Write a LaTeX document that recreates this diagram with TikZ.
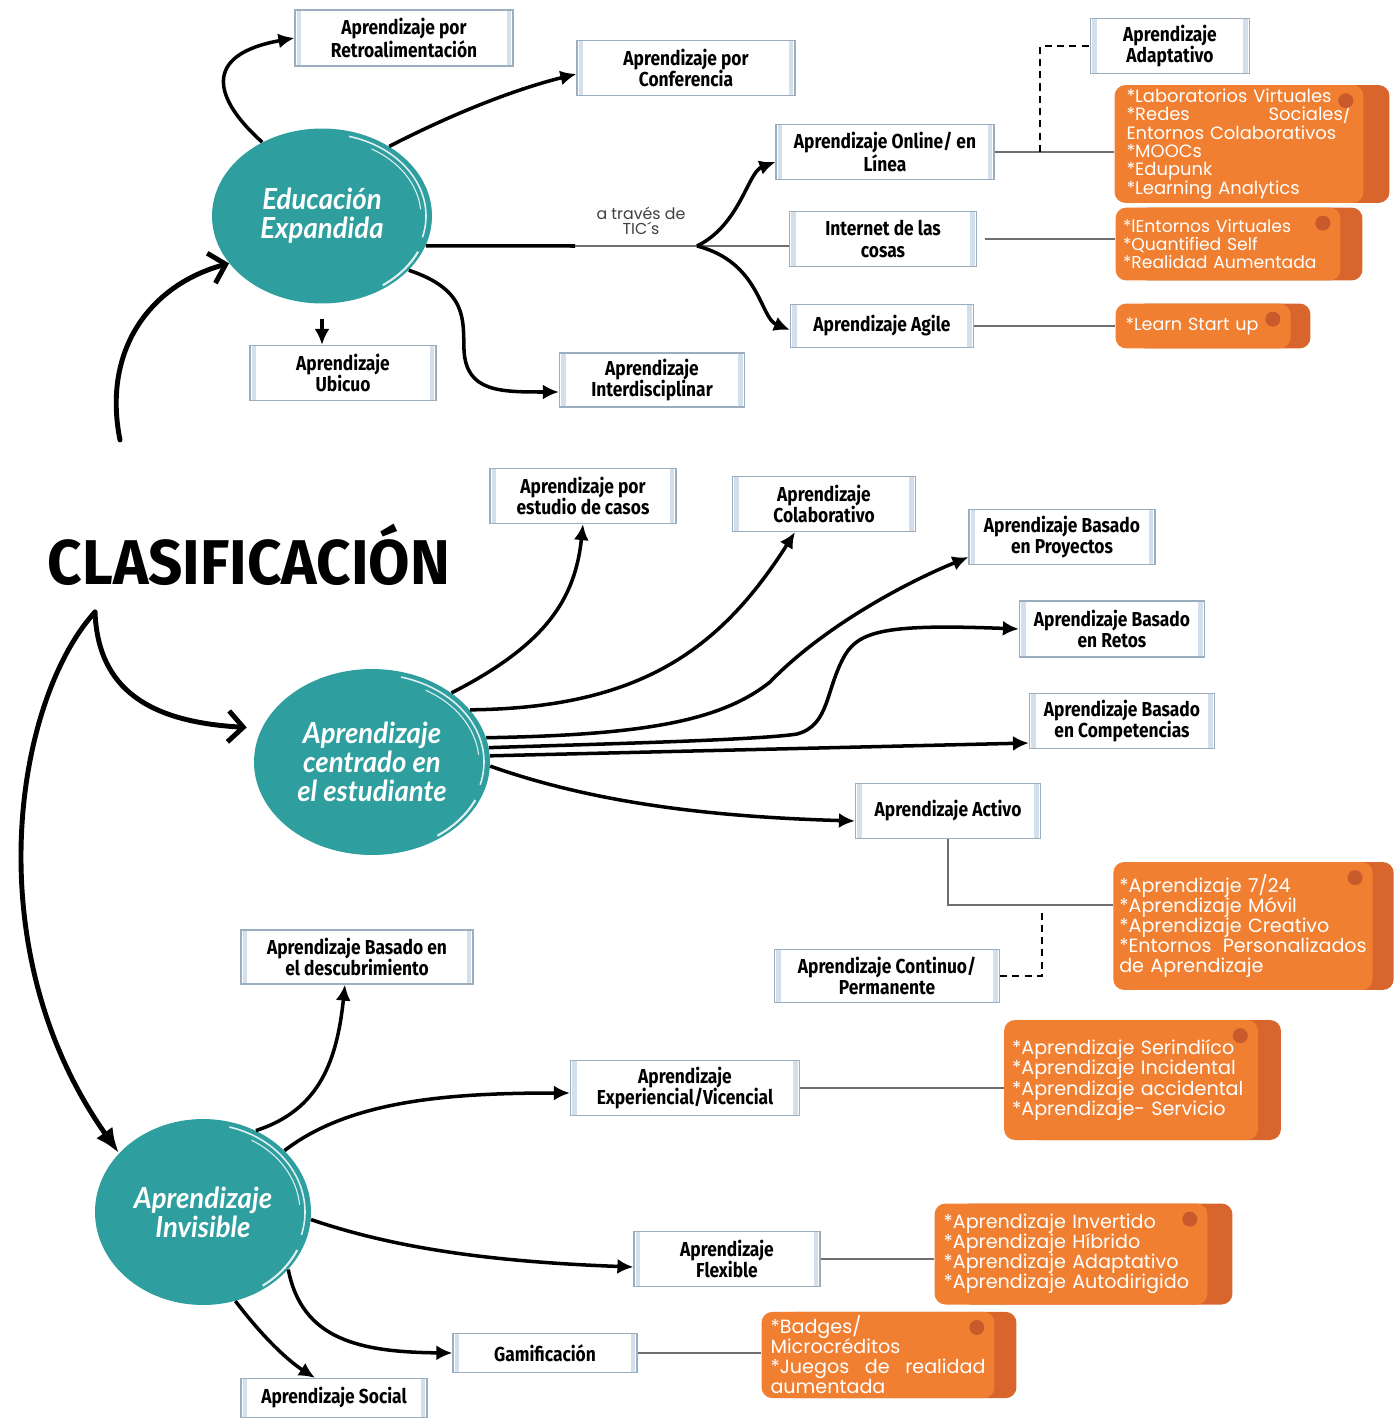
\documentclass[tikz,border=0pt]{standalone}
\usepackage{fontspec}
\usetikzlibrary{arrows.meta,shapes.geometric,shadows,calc}
\newfontfamily\boxfont{Fira Sans}[FakeStretch=0.86]
\newfontfamily\ofont{Poppins}
\newfontfamily\cfont{Lato}[FakeStretch=0.95]
\newfontfamily\tfont{Fira Sans}[FakeStretch=0.95]
\newcommand\tightlines{\lineskiplimit=-20pt\hyphenpenalty=10000\exhyphenpenalty=10000}

\definecolor{tealc}{HTML}{2F9E9F}
\definecolor{boxline}{HTML}{9AAEC0}
\definecolor{boxside}{HTML}{D3DFEA}
\definecolor{orA}{HTML}{F07F32}
\definecolor{orB}{HTML}{D8662C}
\definecolor{orDot}{HTML}{C85A2C}
\definecolor{conn}{HTML}{6E6E6E}

\tikzset{
  lbox/.style={draw=boxline, line width=0.7pt, fill=white, align=center, inner sep=1pt,
    font=\boxfont\bfseries\fontsize{11.5}{12}\selectfont,
    path picture={
      \fill[boxside] ([xshift=1pt]path picture bounding box.north west) rectangle ([xshift=3.5pt]path picture bounding box.south west);
      \fill[boxside] ([xshift=-1pt]path picture bounding box.north east) rectangle ([xshift=-3.5pt]path picture bounding box.south east);
    }},
  blob/.style={ellipse, fill=tealc, text=white, align=center, inner sep=0pt,
    font=\cfont\bfseries\itshape\fontsize{16.5}{16.5}\selectfont},
  obox/.style={fill=orA, rounded corners=0.22cm, text=white, align=left,
    inner xsep=0.18cm, inner ysep=0.08cm,
    font=\ofont\fontsize{10.9}{11.4}\selectfont\tightlines,
    copy shadow={shadow xshift=#1, shadow yshift=0cm, fill=orB, draw=none}},
  obox/.default=0.5cm,
  odot/.style={fill=orDot},
  flow/.style={line width=2pt, -{Latex[length=0.32cm,width=0.3cm]}},
  big/.style={line width=2.8pt, line cap=round},
  gline/.style={conn, line width=1.2pt},
  dline/.style={black, line width=0.9pt, dash pattern=on 4pt off 3pt},
  brush/.style={white, line width=0.9pt, opacity=0.85},
}

\begin{document}
\begin{tikzpicture}[x=0.02cm, y=-0.02cm]
\fill[white] (0,0) rectangle (1398,1419);
\useasboundingbox (0,0) rectangle (1398,1419);

% ---------- central circles ----------
\node[blob, minimum width=4.4cm, minimum height=3.5cm] (c1) at (322,216) {Educación\\Expandida};
\node[blob, minimum width=4.72cm, minimum height=3.72cm] (c2) at (372,762) {Aprendizaje\\centrado en\\el estudiante};
\node[blob, minimum width=4.32cm, minimum height=3.72cm] (c3) at (203,1212) {Aprendizaje\\Invisible};

% brush strokes on the circle rims
\foreach \c/\a/\b in {c1/2.2cm/1.75cm, c2/2.36cm/1.86cm, c3/2.16cm/1.86cm}{
  \draw[brush] ([shift={(\c.center)}]75:\a-0.12cm and \b-0.1cm) arc[start angle=75, end angle=-15, x radius=\a-0.12cm, y radius=\b-0.1cm];
  \draw[brush, line width=0.6pt] ([shift={(\c.center)}]60:\a-0.22cm and \b-0.2cm) arc[start angle=60, end angle=5, x radius=\a-0.22cm, y radius=\b-0.2cm];
  \draw[brush, line width=1.2pt] ([shift={(\c.center)}]-25:\a-0.08cm and \b-0.06cm) arc[start angle=-25, end angle=-55, x radius=\a-0.08cm, y radius=\b-0.06cm];
}

% ---------- title ----------
\node[font=\tfont\bfseries\fontsize{36}{36}\selectfont] (title) at (249,555) {CLASIFICACIÓN};
\coordinate (up0) at (120,440);
\coordinate (dn0) at (95,612);

% ---------- label boxes ----------
\node[lbox, minimum width=4.36cm, minimum height=1.12cm] (retro) at (404,38) {Aprendizaje por\\Retroalimentación};
\node[lbox, minimum width=4.36cm, minimum height=1.1cm] (conf) at (686,68) {Aprendizaje por\\Conferencia};
\node[lbox, minimum width=4.36cm, minimum height=1.1cm] (online) at (885,152) {Aprendizaje Online/ en\\Línea};
\node[lbox, minimum width=3.74cm, minimum height=1.1cm] (iot) at (883,239) {Internet de las\\cosas};
\node[lbox, minimum width=3.66cm, minimum height=0.86cm] (agile) at (882,326) {Aprendizaje Agile};
\node[lbox, minimum width=3.18cm, minimum height=1.1cm] (adapt) at (1170,46) {Aprendizaje\\Adaptativo};
\node[lbox, minimum width=3.72cm, minimum height=1.1cm] (ubicuo) at (343,373) {Aprendizaje\\Ubicuo};
\node[lbox, minimum width=3.7cm, minimum height=1.08cm] (inter) at (652,380) {Aprendizaje\\Interdisciplinar};

\node[lbox, minimum width=3.72cm, minimum height=1.1cm] (casos) at (583,496) {Aprendizaje por\\estudio de casos};
\node[lbox, minimum width=3.66cm, minimum height=1.1cm] (colab) at (824,504) {Aprendizaje\\Colaborativo};
\node[lbox, minimum width=3.72cm, minimum height=1.1cm] (proy) at (1062,537) {Aprendizaje Basado\\en Proyectos};
\node[lbox, minimum width=3.7cm, minimum height=1.12cm] (retos) at (1112,629) {Aprendizaje Basado\\en Retos};
\node[lbox, minimum width=3.7cm, minimum height=1.1cm] (compet) at (1122,721) {Aprendizaje Basado\\en Competencias};
\node[lbox, minimum width=3.7cm, minimum height=1.1cm] (activo) at (948,811) {Aprendizaje Activo};
\node[lbox, minimum width=4.5cm, minimum height=1.06cm] (contin) at (887,976) {Aprendizaje Continuo/\\Permanente};

\node[lbox, minimum width=4.64cm, minimum height=1.08cm] (descub) at (357,957) {Aprendizaje Basado en\\el descubrimiento};
\node[lbox, minimum width=4.58cm, minimum height=1.1cm] (exper) at (685,1088) {Aprendizaje\\Experiencial/Vicencial};
\node[lbox, minimum width=3.72cm, minimum height=1.1cm] (flex) at (727,1259) {Aprendizaje\\Flexible};
\node[lbox, minimum width=3.68cm, minimum height=0.78cm] (gami) at (545,1353) {Gamificación};
\node[lbox, minimum width=3.72cm, minimum height=0.78cm] (social) at (334,1398) {Aprendizaje Social};

% ---------- orange lists ----------
\node[obox=0.52cm, inner xsep=0.24cm, text width=4.5cm, minimum height=2.3cm, font=\ofont\fontsize{10.2}{10.4}\selectfont\tightlines] (o1) at (1239,144)
  {*Laboratorios Virtuales\\{*}Redes\hfill Sociales/\\Entornos Colaborativos\\{*}MOOCs\\{*}Edupunk\\{*}Learning Analytics};
\node[obox=0.44cm, inner xsep=0.15cm, text width=4.2cm, minimum height=1.46cm, font=\ofont\fontsize{9.8}{10.3}\selectfont\tightlines] (o2) at (1228,244)
  {*lEntornos Virtuales\\{*}Quantified Self\\{*}Realidad Aumentada};
\node[obox=0.4cm, inner xsep=0.2cm, text width=3.1cm, minimum height=0.9cm, font=\ofont\fontsize{10}{10}\selectfont\tightlines] (o3) at (1203,326)
  {*Learn Start up};
\node[obox=0.42cm, inner xsep=0.12cm, text width=4.95cm, minimum height=2.56cm] (o4) at (1243,926)
  {*Aprendizaje 7/24\\{*}Aprendizaje Móvil\\{*}Aprendizaje Creativo\\{*}Entornos\hfill Personalizados\\de Aprendizaje};
\node[obox=0.46cm, inner xsep=0.16cm, text width=4.76cm, minimum height=2.4cm] (o5) at (1131,1080)
  {*Aprendizaje Serindiíco\\{*}Aprendizaje Incidental\\{*}Aprendizaje accidental\\{*}Aprendizaje- Servicio};
\node[obox=0.5cm, inner xsep=0.18cm, text width=5.1cm, minimum height=2.02cm] (o6) at (1071,1254)
  {*Aprendizaje Invertido\\{*}Aprendizaje Híbrido\\{*}Aprendizaje Adaptativo\\{*}Aprendizaje Autodirigido};
\node[obox=0.44cm, inner xsep=0.18cm, text width=4.3cm, minimum height=1.68cm] (o7) at (878,1355)
  {*Badges/\\Microcréditos\\{*}Juegos\hfill de\hfill realidad\\aumentada};

\foreach \o in {o1,o2,o3,o4,o5,o6,o7}{
  \fill[odot] ([xshift=-0.36cm, yshift=-0.32cm]\o.north east) circle (0.15cm);
}

% ---------- arrows from the title ----------
\draw[big, -{Straight Barb[length=0.3cm, width=0.62cm, line width=2.8pt]}] (up0) .. controls (102,350) and (150,285) .. (c1.207);
\draw[big, shorten >=0.3cm, -{Straight Barb[length=0.3cm, width=0.62cm, line width=2.8pt]}] (dn0) .. controls (98,690) and (150,722) .. (c2.163);
\draw[big, -{Latex[length=0.5cm, width=0.4cm]}] (dn0) .. controls (15,700) and (-25,950) .. (c3.145);

% ---------- Educación Expandida ----------
\draw[flow] (c1.129) .. controls (215,100) and (200,55) .. (retro.west);
\draw[flow] (c1.46) .. controls (460,110) and (520,88) .. ([yshift=-0.12cm]conf.west);
\draw[flow] ([yshift=-0.3cm]c1.south) -- (c1.south |- ubicuo.north);
\draw[flow] (c1.-32) .. controls (468,290) and (463,320) .. (464,350) .. controls (466,392) and (500,392) .. ([yshift=-0.24cm]inter.west);

\coordinate (mid) at (575,246);
\coordinate (tic) at (697,246);
\draw[line width=2pt] (c1.-16) -- (mid);
\draw[gline, line width=1.6pt] (mid) -- (mid -| iot.west);
\node[font=\ofont\fontsize{9}{8.5}\selectfont, text=black!75, align=center] (ticl) at (641,221) {a través de\\TIC´s};
\draw[flow] (tic) .. controls (740,225) and (748,172) .. ([yshift=-0.2cm]online.west);
\draw[flow] (tic) .. controls (760,262) and (760,318) .. ([yshift=-0.08cm]agile.west);

\draw[gline] (online.east) -- (online.east -| o1.west);
\draw[gline] ([xshift=0.15cm]iot.east) -- (iot.east -| o2.west);
\draw[gline] (agile.east) -- (agile.east -| o3.west);
\draw[dline] ($(online.east)!0.38!(online.east -| o1.west)$) |- (adapt.west);

% ---------- Aprendizaje centrado en el estudiante ----------
\draw[flow] (c2.41) .. controls (545,645) and (575,600) .. (casos.south);
\draw[flow] (c2.28) .. controls (640,708) and (720,650) .. ([xshift=-0.58cm]colab.south);
\draw[flow] (c2.12) .. controls (640,735) and (720,722) .. (770,682) .. controls (820,630) and (900,585) .. ([yshift=0.16cm]proy.south west);
\draw[flow] (c2.7) .. controls (600,744) and (760,740) .. (797,734) .. controls (830,725) and (825,690) .. (845,655) .. controls (860,630) and (890,624) .. (retos.west);
\draw[flow] (c2.3) -- ([yshift=-0.44cm]compet.west);
\draw[flow] (c2.-2) .. controls (600,805) and (720,817) .. ([yshift=-0.2cm]activo.west);

\draw[gline] (activo.south) |- ([yshift=0.42cm]o4.west);
\coordinate (dz2) at (1042,910);
\draw[dline] (contin.east) -| (dz2);

% ---------- Aprendizaje Invisible ----------
\draw[flow] (c3.57) .. controls (320,1110) and (337,1060) .. ([xshift=-0.24cm]descub.south);
\draw[flow] (c3.37) .. controls (350,1100) and (450,1093) .. ([yshift=-0.1cm]exper.west);
\draw[flow] (c3.-4) .. controls (400,1250) and (500,1262) .. ([yshift=-0.16cm]flex.west);
\draw[flow] (c3.-34) .. controls (302,1340) and (360,1352) .. (gami.west);
\draw[flow] (c3.-70) .. controls (265,1340) and (290,1362) .. ([xshift=-0.38cm]social.north);

\draw[gline] (exper.east) -- (exper.east -| o5.west);
\draw[gline] (flex.east) -- (flex.east -| o6.west);
\draw[gline] (gami.east) -- (gami.east -| o7.west);
\end{tikzpicture}
\end{document}
